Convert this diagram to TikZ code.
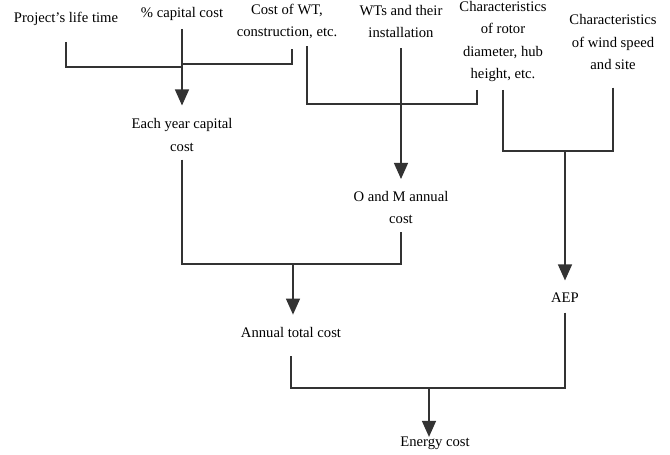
\documentclass[tikz,border=0pt]{standalone}
\usepackage{fontspec}
\setmainfont{Liberation Serif}
\usetikzlibrary{arrows.meta}
\begin{document}
\begin{tikzpicture}[x=0.03cm,y=-0.03cm,
    lbl/.style={align=center,inner sep=0pt,font=\fontsize{12.5}{19}\selectfont},
    wire/.style={line width=0.4mm,black!80},
    flow/.style={wire,-{Triangle[width=0.42cm,length=0.48cm]},shorten >=#1},
    flow/.default=0.36cm]
  \useasboundingbox (0,0) rectangle (670,455);

  % Inputs
  \node[lbl] (life) at (66,19) {Project's life time};
  \node[lbl] (capital) at (182,14) {\% capital cost};
  \node[lbl] (costwt) at (287,21.5) {Cost of WT,\\construction, etc.};
  \node[lbl] (wts) at (401,21.5) {WTs and their\\installation};
  \node[lbl] (rotor) at (503,41.5) {Characteristics\\of rotor\\diameter, hub\\height, etc.};
  \node[lbl] (wind) at (613,42) {Characteristics\\of wind speed\\and site};

  % Intermediate results
  \node[lbl] (eachyear) at (182,135) {Each year capital\\cost};
  \node[lbl] (om) at (401,207.5) {O and M annual\\cost};
  \node[lbl] (aep) at (565,297.5) {AEP};
  \node[lbl] (total) at (291,332) {Annual total cost};
  \node[lbl] (energy) at (435,443.5) {Energy cost};

  % Junctions
  \coordinate (jA) at (182,64);
  \coordinate (jB) at (401,104);
  \coordinate (jC) at (565,151);
  \coordinate (jD) at (293,264);
  \coordinate (jE) at (429,388);

  % Capital cost per year
  \draw[wire] (life.south) ++(0,16) |- ([yshift=-0.09cm]jA);
  \draw[wire] (costwt.south) ++(5,10) |- (jA);
  \draw[flow=0.39cm] (capital.south) ++(0,8) -- (eachyear.north);

  % O and M cost
  \draw[wire] (costwt.south) ++(20,7) |- (jB);
  \draw[wire] (rotor.south) ++(-26,8) |- (jB);
  \draw[flow] (wts.south) ++(0,10) -- (om.north);

  % Energy production
  \draw[wire] (rotor.south) ++(0,8) |- (jC);
  \draw[wire] (wind.south) ++(0,18) |- (jC);
  \draw[flow] (jC) -- (jC |- aep.north);

  % Total cost
  \draw[wire] (eachyear.south) ++(0,8) |- (jD);
  \draw[wire] (om.south) ++(0,8) |- (jD);
  \draw[flow] (jD) -- (jD |- total.north);

  % Energy cost
  \draw[wire] (total.south) ++(0,19) |- (jE);
  \draw[wire] (aep.south) ++(0,10) |- (jE);
  \draw[flow=0pt] (jE) -- (jE |- energy.north);
\end{tikzpicture}
\end{document}
